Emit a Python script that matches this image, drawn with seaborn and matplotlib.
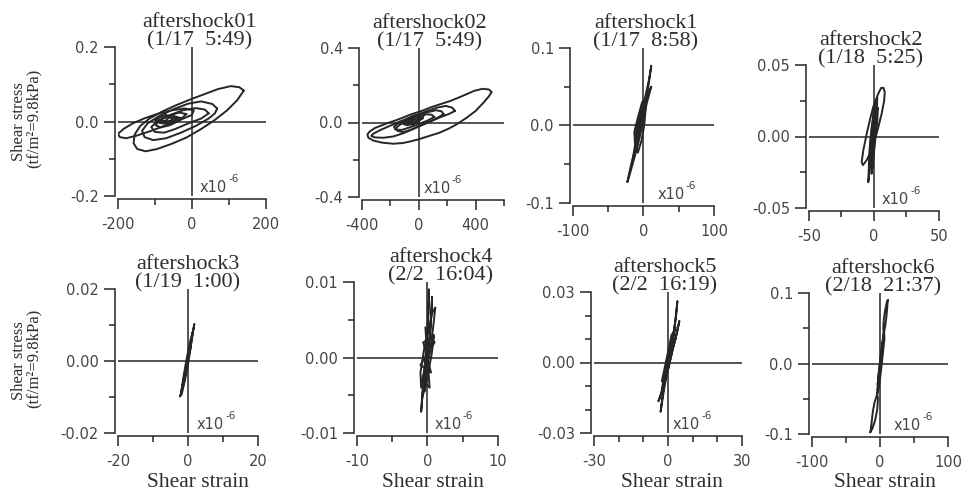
import matplotlib
matplotlib.use("Agg")
import matplotlib.pyplot as plt
import pandas as pd
import seaborn as sns
from matplotlib.ticker import FixedLocator, FixedFormatter, NullFormatter

# ---------------------------------------------------------------------------
# Stress-strain hysteresis loops for each aftershock (strain in 1e-6,
# shear stress in tf/m^2). Each inner list is one traced loop.
# ---------------------------------------------------------------------------
event_names = ["aftershock01", "aftershock02", "aftershock1", "aftershock2",
               "aftershock3", "aftershock4", "aftershock5", "aftershock6"]
event_times = ["(1/17  5:49)", "(1/17  5:49)", "(1/17  8:58)", "(1/18  5:25)",
               "(1/19  1:00)", "(2/2  16:04)", "(2/2  16:19)", "(2/18  21:37)"]

strain_01 = [
    [140, 128, 105, 70, 30, 0, -40, -80, -115, -140, -155, -158, -148, -125, -95, -55, -15, 25, 60, 95, 122, 140],
    [-200, -185, -160, -130, -95, -55, -20, 5, 0, -30, -70, -110, -150, -178, -195, -200],
    [68, 55, 25, -10, -50, -90, -120, -135, -128, -105, -70, -30, 10, 45, 62, 68],
    [45, 35, 10, -25, -60, -95, -110, -100, -75, -45, -10, 25, 45],
    [-15, -35, -65, -90, -98, -85, -60, -35, -15],
    [-40, -55, -80, -88, -72, -55, -40],
    [-100, -70, -50, -80, -60, -30, -60, -100],
]
stress_01 = [
    [0.083, 0.092, 0.095, 0.087, 0.072, 0.061, 0.045, 0.027, 0.008, -0.012, -0.035, -0.058, -0.074, -0.080, -0.074, -0.060, -0.043, -0.020, 0.003, 0.030, 0.057, 0.083],
    [-0.033, -0.020, -0.005, 0.008, 0.020, 0.030, 0.035, 0.030, 0.018, 0.005, -0.010, -0.025, -0.038, -0.045, -0.042, -0.033],
    [0.035, 0.047, 0.054, 0.048, 0.033, 0.014, -0.005, -0.025, -0.042, -0.050, -0.045, -0.030, -0.012, 0.008, 0.022, 0.035],
    [0.022, 0.032, 0.036, 0.030, 0.017, 0.000, -0.015, -0.028, -0.030, -0.020, -0.005, 0.008, 0.022],
    [0.020, 0.024, 0.015, 0.002, -0.010, -0.016, -0.010, 0.002, 0.020],
    [0.012, 0.016, 0.008, -0.004, -0.006, 0.000, 0.012],
    [0.005, 0.018, 0.005, -0.004, 0.012, 0.010, -0.002, 0.005],
]

strain_02 = [
    [512, 495, 450, 390, 300, 220, 150, 80, 20, -50, -100, -160, -215, -270, -310, -345, -362, -355, -320, -260, -180, -110, -50, 0, 70, 145, 210, 264, 336, 400, 455, 495, 512],
    [255, 235, 190, 130, 60, 0, -70, -140, -210, -270, -320, -335, -310, -250, -180, -110, -40, 20, 90, 150, 210, 255],
    [175, 160, 120, 60, 0, -60, -120, -160, -150, -110, -60, 0, 60, 120, 175],
    [110, 90, 40, -20, -80, -140, -175, -165, -120, -60, 0, 60, 110],
    [40, 0, -50, -90, -110, -80, -40, 0, 40],
    [20, -20, -60, -80, -50, -10, 20],
    [-100, -30, -60, 10, -20, 30, -40, -100],
]
stress_02 = [
    [0.163, 0.177, 0.181, 0.170, 0.140, 0.115, 0.098, 0.080, 0.062, 0.045, 0.030, 0.012, -0.002, -0.018, -0.030, -0.048, -0.064, -0.082, -0.097, -0.108, -0.114, -0.110, -0.100, -0.090, -0.073, -0.055, -0.033, -0.011, 0.025, 0.062, 0.106, 0.142, 0.163],
    [0.062, 0.080, 0.089, 0.080, 0.062, 0.045, 0.025, 0.003, -0.020, -0.040, -0.060, -0.072, -0.080, -0.082, -0.075, -0.058, -0.035, -0.015, 0.008, 0.028, 0.045, 0.062],
    [0.045, 0.060, 0.066, 0.055, 0.040, 0.020, -0.005, -0.028, -0.045, -0.052, -0.040, -0.020, 0.000, 0.020, 0.045],
    [0.030, 0.042, 0.045, 0.035, 0.018, -0.002, -0.022, -0.038, -0.040, -0.025, -0.008, 0.010, 0.030],
    [0.040, 0.045, 0.032, 0.012, -0.008, -0.015, 0.000, 0.018, 0.040],
    [0.025, 0.035, 0.022, 0.002, -0.005, 0.010, 0.025],
    [-0.008, 0.030, 0.002, 0.035, 0.000, 0.025, -0.012, -0.008],
]

strain_1 = [
    [11, 8, 2, -3, -8, -12, -18, -23, -21, -14, -8, -3, 2, 6, 11],
    [11, 6, 0, -6, -11, -16, -13, -7, -1, 5, 11],
    [3, -2, -8, -13, -12, -8, -3, 1, 3, 3],
    [2, -4, -10, -11, -6, -1, 2],
    [0, -9, -2, -11, -4, -12, -6, 0],
]
stress_1 = [
    [0.077, 0.060, 0.035, 0.015, -0.010, -0.030, -0.052, -0.073, -0.068, -0.045, -0.025, -0.005, 0.020, 0.045, 0.077],
    [0.050, 0.040, 0.020, -0.002, -0.020, -0.048, -0.040, -0.018, 0.005, 0.030, 0.050],
    [0.035, 0.030, 0.010, -0.008, -0.025, -0.035, -0.020, 0.000, 0.020, 0.035],
    [0.025, 0.020, 0.000, -0.015, -0.010, 0.008, 0.025],
    [0.030, -0.005, 0.015, -0.020, 0.005, -0.030, -0.005, 0.030],
]

strain_2 = [
    [7.2, 8.3, 7.8, 5.9, 4.0, 2.0, -1.8, -5.6, -8.5, -9.5, -8.2, -5.6, -2.5, -0.5, 3.3, 5.5, 7.2],
    [2.5, 0.0, -2.0, -3.5, -4.4, -3.5, -2.0, 0.0, 2.0, 2.5],
    [3.0, 1.0, -1.0, -2.0, -1.8, -0.5, 1.0, 2.5, 3.0],
    [1.5, -1.0, -3.0, -1.0, 0.0, 1.5],
    [0.0, -2.5, 1.0, -3.0, 2.0, -1.0, 0.0],
]
stress_2 = [
    [0.034, 0.031, 0.025, 0.016, 0.009, 0.002, -0.0095, -0.0165, -0.020, -0.018, -0.0095, 0.002, 0.014, 0.021, 0.030, 0.034, 0.034],
    [0.027, 0.018, 0.005, -0.010, -0.032, -0.025, -0.012, 0.000, 0.015, 0.027],
    [0.020, 0.015, 0.000, -0.015, -0.026, -0.015, -0.002, 0.010, 0.020],
    [0.024, 0.010, -0.005, -0.018, -0.004, 0.024],
    [0.022, -0.012, 0.010, -0.020, 0.018, -0.022, 0.022],
]

strain_3 = [
    [1.8, 1.2, 0.4, -0.4, -1.2, -2.3, -1.8, -0.8, 0.0, 0.8, 1.5, 1.8],
    [1.3, 0.5, -0.5, -1.4, -1.9, -1.0, 0.0, 0.9, 1.3],
    [0.8, -0.5, -1.0, 0.2, 0.8],
]
stress_3 = [
    [0.0102, 0.007, 0.003, -0.002, -0.006, -0.0099, -0.0092, -0.005, -0.001, 0.004, 0.0085, 0.0102],
    [0.008, 0.005, 0.000, -0.005, -0.0085, -0.004, 0.001, 0.005, 0.008],
    [0.004, -0.001, -0.004, 0.001, 0.004],
]

strain_4 = [
    [0.2, 0.15, 0.0, -0.3, -0.6, -0.9, -0.7, -0.4, -0.1, 0.1, 0.2],
    [0.65, 0.5, 0.2, -0.2, -0.6, -0.4, 0.0, 0.4, 0.65],
    [1.1, 0.8, 0.4, -0.2, -0.9, -1.0, -0.5, 0.2, 0.7, 1.1],
    [-0.8, 0.9, -0.6, 0.5, -1.0, 1.0, -0.3, 0.3, -0.8],
    [0.9, 0.6, -0.2, -0.8, -0.5, 0.3, 0.9],
]
stress_4 = [
    [0.0090, 0.006, 0.003, 0.000, -0.003, -0.0072, -0.005, -0.002, 0.002, 0.006, 0.0090],
    [0.0080, 0.005, 0.002, -0.001, -0.004, -0.0045, -0.001, 0.003, 0.0080],
    [0.0066, 0.004, 0.001, -0.002, -0.004, -0.002, 0.001, 0.004, 0.006, 0.0066],
    [-0.003, 0.003, 0.002, -0.002, -0.001, 0.002, 0.004, -0.004, -0.003],
    [0.0028, 0.0005, -0.0035, -0.0055, -0.003, 0.001, 0.0028],
]

strain_5 = [
    [3.8, 3.3, 2.2, 1.0, -0.5, -1.8, -3.0, -2.6, -1.2, 0.2, 1.6, 2.9, 3.8],
    [4.6, 3.5, 2.0, 0.5, -1.2, -2.8, -3.9, -3.2, -1.6, 0.0, 1.5, 3.0, 4.6],
    [3.0, 1.2, -0.5, -2.0, -2.6, -1.2, 0.5, 2.2, 3.0],
    [-2.0, 2.5, -1.0, 3.0, -2.5, 1.5, -2.0],
]
stress_5 = [
    [0.026, 0.020, 0.012, 0.005, -0.003, -0.011, -0.021, -0.018, -0.009, -0.001, 0.008, 0.017, 0.026],
    [0.0176, 0.012, 0.006, -0.001, -0.008, -0.013, -0.0165, -0.015, -0.010, -0.003, 0.004, 0.010, 0.0176],
    [0.015, 0.009, 0.000, -0.008, -0.013, -0.006, 0.002, 0.010, 0.015],
    [-0.012, 0.014, -0.004, 0.010, -0.008, 0.012, -0.012],
]

strain_6 = [
    [11.5, 10.5, 9.3, 7.5, 5.5, 4.8, 5.5, 7.5, 10.0, 11.5],
    [-14.2, -12.5, -10.5, -8.0, -4.0, -3.0, -4.0, -7.0, -11.0, -14.2],
    [6.0, 3.0, 0.0, -2.5, -4.0, -1.0, 1.5, 4.0, 6.5, 6.0],
    [5.0, 1.0, -2.0, -3.5, -1.0, 2.0, 5.0],
    [-3.0, 5.5, -2.0, 4.0, -3.5, 6.0, -3.0],
]
stress_6 = [
    [0.090, 0.078, 0.065, 0.052, 0.042, 0.050, 0.062, 0.075, 0.087, 0.090],
    [-0.0975, -0.085, -0.068, -0.055, -0.043, -0.050, -0.065, -0.080, -0.092, -0.0975],
    [0.047, 0.025, 0.002, -0.020, -0.043, -0.030, -0.010, 0.012, 0.035, 0.047],
    [0.040, 0.010, -0.015, -0.038, -0.020, 0.005, 0.040],
    [-0.035, 0.040, -0.025, 0.030, -0.030, 0.045, -0.035],
]

all_strain = [strain_01, strain_02, strain_1, strain_2, strain_3, strain_4, strain_5, strain_6]
all_stress = [stress_01, stress_02, stress_1, stress_2, stress_3, stress_4, stress_5, stress_6]

# Axis ranges and tick values
x_ranges = [(-200, 200), (-400, 600), (-100, 100), (-50, 50),
            (-20, 20), (-10, 10), (-30, 30), (-100, 100)]
y_ranges = [(-0.2, 0.2), (-0.4, 0.4), (-0.1, 0.1), (-0.05, 0.05),
            (-0.02, 0.02), (-0.01, 0.01), (-0.03, 0.03), (-0.1, 0.1)]
x_major = [[-200, 0, 200], [-400, 0, 400], [-100, 0, 100], [-50, 0, 50],
           [-20, 0, 20], [-10, 0, 10], [-30, 0, 30], [-100, 0, 100]]
x_minor = [[-100, 100], [-200, 200, 600], [-50, 50], [-25, 25],
           [-10, 10], [-5, 5], [-20, -10, 10, 20], [-50, 50]]
y_major = [[-0.2, 0.0, 0.2], [-0.4, 0.0, 0.4], [-0.1, 0.0, 0.1], [-0.05, 0.0, 0.05],
           [-0.02, 0.0, 0.02], [-0.01, 0.0, 0.01], [-0.03, 0.0, 0.03], [-0.1, 0.0, 0.1]]
y_minor = [[-0.1, 0.1], [-0.2, 0.2], [-0.05, 0.05], [-0.025, 0.025],
           [-0.01, 0.01], [-0.005, 0.005], [-0.02, -0.01, 0.01, 0.02], [-0.05, 0.05]]
y_tick_text = [["-0.2", "0.0", "0.2"], ["-0.4", "0.0", "0.4"], ["-0.1", "0.0", "0.1"],
               ["-0.05", "0.00", "0.05"], ["-0.02", "0.00", "0.02"], ["-0.01", "0.00", "0.01"],
               ["-0.03", "0.00", "0.03"], ["-0.1", "0.0", "0.1"]]

# ---------------------------------------------------------------------------
# Figure layout (pixel boxes: x_left, x_right, y_top, y_bottom)
# ---------------------------------------------------------------------------
W, H = 962, 503
boxes = [(118, 266, 47, 196), (362, 504, 48, 197), (573, 714, 48, 203), (809, 939, 65, 208),
         (118, 258, 289, 433), (357, 498, 282, 433), (594, 742, 292, 433), (812, 948, 293, 434)]
title_cx = [200, 430, 646, 871, 188, 441, 665, 883]
unit_dx = [8, 5, 14, 8, 9, 7, 5, 14]
xlabel_cx = [198, 433, 672, 885]

sns.set_theme(style="white")
plt.rcParams["font.family"] = ["DejaVu Sans"]
plt.rcParams["axes.unicode_minus"] = False

ink = "#262626"
tick_ink = "#454545"
serif = ["Liberation Serif", "DejaVu Serif"]

fig = plt.figure(figsize=(W / 100, H / 100), dpi=100)
fig.patch.set_facecolor("white")


def fx(px):
    return px / W


def fy(py):
    return 1 - py / H


for i in range(8):
    x0, x1, y0, y1 = boxes[i]
    ax = fig.add_axes([fx(x0), fy(y1), (x1 - x0) / W, (y1 - y0) / H])
    ax.set_facecolor("none")

    frames = []
    for k, (xs, ys) in enumerate(zip(all_strain[i], all_stress[i])):
        frames.append(pd.DataFrame({"strain": xs, "stress": ys, "loop": k}))
    df = pd.concat(frames, ignore_index=True)

    ax.axhline(0, color=ink, lw=1.1, zorder=1)
    ax.axvline(0, color=ink, lw=1.1, zorder=1)
    sns.lineplot(data=df, x="strain", y="stress", units="loop", estimator=None,
                 sort=False, color=ink, lw=1.4, ax=ax, legend=False, zorder=3)

    ax.set_xlim(*x_ranges[i])
    ax.set_ylim(*y_ranges[i])
    ax.set(xlabel="", ylabel="")

    for side in ("top", "right"):
        ax.spines[side].set_visible(False)
    for side in ("left", "bottom"):
        ax.spines[side].set_position(("outward", 2.2))
        ax.spines[side].set_color(ink)
        ax.spines[side].set_linewidth(1.1)

    ax.xaxis.set_major_locator(FixedLocator(x_major[i]))
    ax.xaxis.set_major_formatter(FixedFormatter([str(v) for v in x_major[i]]))
    ax.xaxis.set_minor_locator(FixedLocator(x_minor[i]))
    ax.xaxis.set_minor_formatter(NullFormatter())
    ax.yaxis.set_major_locator(FixedLocator(y_major[i]))
    ax.yaxis.set_major_formatter(FixedFormatter(y_tick_text[i]))
    ax.yaxis.set_minor_locator(FixedLocator(y_minor[i]))
    ax.yaxis.set_minor_formatter(NullFormatter())

    ax.tick_params(axis="x", which="major", direction="out", length=7.5, width=1.1,
                   color=ink, pad=5.5, labelsize=10.5, labelcolor=tick_ink, bottom=True)
    ax.tick_params(axis="x", which="minor", direction="out", length=4, width=1.1,
                   color=ink, bottom=True)
    ax.tick_params(axis="y", which="major", direction="out", length=8, width=1.1,
                   color=ink, pad=3.5, labelsize=10.5, labelcolor=tick_ink, left=True)
    ax.tick_params(axis="y", which="minor", direction="out", length=4.3, width=1.1,
                   color=ink, left=True)

    # strain unit marker next to the vertical zero line
    dx = unit_dx[i] * 0.72
    ax.annotate("x10", xy=(0, y_ranges[i][0]), xycoords="data", xytext=(dx, 3.0),
                textcoords="offset points", ha="left", va="baseline",
                fontsize=10.5, color=tick_ink)
    ax.annotate("-6", xy=(0, y_ranges[i][0]), xycoords="data", xytext=(dx + 20.3, 10.0),
                textcoords="offset points", ha="left", va="baseline",
                fontsize=7.5, color=tick_ink)

    # two-line title above each panel
    fig.text(fx(title_cx[i]), fy(y0 + 3), f"{event_names[i]}\n{event_times[i]}",
             ha="center", va="bottom", family=serif, fontsize=16,
             linespacing=0.92, color="#2e2e2e")

# y-axis labels for the left column
for row in (0, 4):
    _, _, y0, y1 = boxes[row]
    cy = (y0 + y1) / 2
    fig.text(fx(19), fy(cy), "Shear stress", rotation=90, ha="center", va="center",
             family=serif, fontsize=12, color="#2e2e2e")
    fig.text(fx(34), fy(cy - 3), "(tf/m²=9.8kPa)", rotation=90, ha="center", va="center",
             family=serif, fontsize=12, color="#2e2e2e")

# x-axis labels for the bottom row
for cx in xlabel_cx:
    fig.text(fx(cx), fy(487), "Shear strain", ha="center", va="baseline",
             family=serif, fontsize=15.5, color="#2e2e2e")

fig.savefig("out.png", dpi=100, facecolor="white")
